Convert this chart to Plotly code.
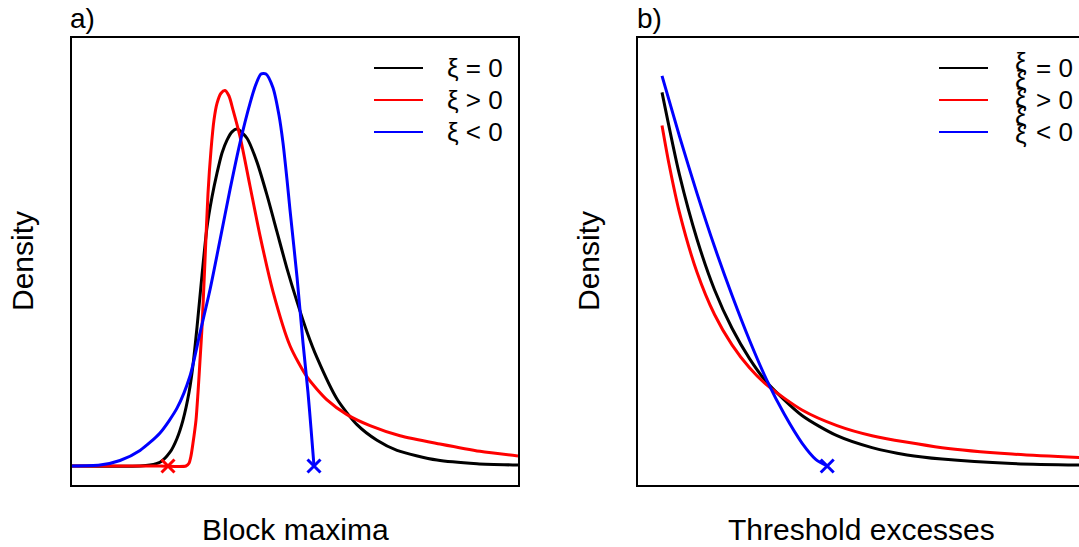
import plotly.graph_objects as go

# ---------------- data ----------------
# Panel a) block maxima (GEV densities)
gev0_x = [-4.125, -2.425, -2.175, -1.925, -1.675, -1.5, -1.35, -1.2, -1.1, -1.0, -0.875, -0.75,
          -0.625, -0.5, -0.375, -0.25, -0.125, 0.0, 0.25, 0.5, 0.75, 1.0, 1.25, 1.5, 1.75, 2.0,
          2.5, 3.0, 3.5, 4.0, 5.0, 6.0, 7.025]
gev0_y = [0.000, 0.000, 0.001, 0.004, 0.015, 0.030, 0.050, 0.080, 0.110, 0.151, 0.208, 0.260,
          0.293, 0.319, 0.341, 0.355, 0.364, 0.367, 0.357, 0.331, 0.295, 0.255, 0.215, 0.179, 0.146, 0.118,
          0.073, 0.045, 0.028, 0.017, 0.0065, 0.0025, 0.001]

gevpos_x = [-4.125, -1.925, -1.275, -1.2, -1.15, -1.1, -1.025, -0.975, -0.925, -0.875, -0.8, -0.725,
            -0.65, -0.575, -0.5, -0.4, -0.3, -0.2, -0.1, 0.075, 0.325, 0.575, 0.9, 1.325, 1.75,
            2.25, 2.75, 3.325, 4.075, 5.075, 6.075, 7.025]
gevpos_y = [0.000, 0.000, 0.000, 0.003, 0.011, 0.025, 0.050, 0.080, 0.115, 0.151, 0.224, 0.297,
            0.344, 0.377, 0.395, 0.406, 0.409, 0.403, 0.388, 0.359, 0.305, 0.251, 0.190, 0.131, 0.097,
            0.072, 0.056, 0.044, 0.033, 0.024, 0.016, 0.011]

gevneg_x = [-4.125, -3.425, -2.925, -2.425, -1.925, -1.5, -1.175, -0.925, -0.675, -0.425, -0.175,
            0.075, 0.325, 0.475, 0.6, 0.725, 0.9, 1.05, 1.15, 1.25, 1.325, 1.5, 1.65, 1.775, 1.85, 1.925]
gevneg_y = [0.000, 0.001, 0.006, 0.017, 0.036, 0.063, 0.098, 0.145, 0.192, 0.246, 0.301,
            0.352, 0.395, 0.416, 0.427, 0.427, 0.412, 0.382, 0.352, 0.312, 0.279, 0.206, 0.134, 0.080, 0.041, 0.000]

gev_endpoints_x = [-1.725, 1.925]   # red (xi>0) lower bound, blue (xi<0) upper bound

# Panel b) threshold excesses (GPD densities)
gpd0_x = [0.00, 0.25, 0.50, 0.75, 1.00, 1.25, 1.50, 2.00, 2.50, 3.00, 3.50, 4.00, 5.00, 6.00]
gpd0_y = [0.407, 0.317, 0.247, 0.192, 0.150, 0.117, 0.091, 0.055, 0.033, 0.020, 0.012, 0.0075, 0.0027, 0.001]

gpdpos_x = [0.00, 0.10, 0.25, 0.50, 0.75, 1.00, 1.25, 1.50, 2.00, 2.50, 3.00, 4.00, 5.00, 6.00]
gpdpos_y = [0.371, 0.329, 0.276, 0.211, 0.165, 0.132, 0.107, 0.088, 0.061, 0.044, 0.033, 0.020, 0.013, 0.009]

gpdneg_x = [0.00, 0.25, 0.50, 0.75, 1.00, 1.25, 1.50, 1.75, 2.00, 2.20, 2.36]
gpdneg_y = [0.425, 0.359, 0.297, 0.239, 0.186, 0.137, 0.093, 0.056, 0.025, 0.007, 0.000]

gpd_endpoint_x = [2.36]

legend_labels = ["\u03be = 0", "\u03be > 0", "\u03be < 0"]
colors = ["#000000", "#FF0000", "#0000FF"]

# ---------------- figure ----------------
W, H = 1079, 547
def px(v): return v / W
def py(v): return 1 - v / H

fig = go.Figure()
LW = 3
SM = 0.7

for xs, ys, c in [(gev0_x, gev0_y, colors[0]), (gevpos_x, gevpos_y, colors[1]), (gevneg_x, gevneg_y, colors[2])]:
    fig.add_trace(go.Scatter(x=xs, y=ys, mode="lines", line=dict(color=c, width=LW, shape="spline", smoothing=SM),
                             showlegend=False, xaxis="x", yaxis="y", hoverinfo="skip"))
fig.add_trace(go.Scatter(x=gev_endpoints_x, y=[0, 0], mode="markers",
                         marker=dict(symbol="x-thin", size=13, line=dict(width=3, color=[colors[1], colors[2]])),
                         showlegend=False, xaxis="x", yaxis="y", hoverinfo="skip"))

for xs, ys, c in [(gpd0_x, gpd0_y, colors[0]), (gpdpos_x, gpdpos_y, colors[1]), (gpdneg_x, gpdneg_y, colors[2])]:
    fig.add_trace(go.Scatter(x=xs, y=ys, mode="lines", line=dict(color=c, width=LW, shape="spline", smoothing=SM),
                             showlegend=False, xaxis="x2", yaxis="y2", hoverinfo="skip"))
fig.add_trace(go.Scatter(x=gpd_endpoint_x, y=[0], mode="markers",
                         marker=dict(symbol="x-thin", size=13, line=dict(width=3, color=colors[2])),
                         showlegend=False, xaxis="x2", yaxis="y2", hoverinfo="skip"))

ydom = [py(485), py(38)]
yr = [-0.0207, 0.4662]
common = dict(showgrid=False, zeroline=False, showticklabels=False, ticks="",
              showline=True, linecolor="black", linewidth=2)

fig.update_layout(
    width=W, height=H,
    margin=dict(l=0, r=0, t=0, b=0),
    paper_bgcolor="white", plot_bgcolor="white",
    font=dict(family="Liberation Sans, Arial, sans-serif", color="black"),
    xaxis=dict(domain=[px(72), px(518)], range=[-4.125, 7.025], mirror=True, anchor="y", **common),
    yaxis=dict(domain=ydom, range=yr, mirror=True, anchor="x", **common),
    xaxis2=dict(domain=[px(638), 1.0], range=[-0.343, 5.957], mirror=True, anchor="y2", **common),
    yaxis2=dict(domain=ydom, range=yr, mirror=False, anchor="x2", **common),
)

ann = []
lab_font = dict(size=30, family="Liberation Sans, Arial, sans-serif")
ann.append(dict(text="Block maxima", x=px(295), y=py(529), xref="paper", yref="paper",
                showarrow=False, font=lab_font, xanchor="center", yanchor="middle"))
ann.append(dict(text="Threshold excesses", x=px(861), y=py(529), xref="paper", yref="paper",
                showarrow=False, font=lab_font, xanchor="center", yanchor="middle"))
for xc in [22, 588]:
    ann.append(dict(text="Density", x=px(xc), y=py(261), xref="paper", yref="paper", textangle=-90,
                    showarrow=False, font=lab_font, xanchor="center", yanchor="middle"))
ann.append(dict(text="a)", x=px(68), y=py(18), xref="paper", yref="paper", showarrow=False,
                font=dict(size=28), xanchor="left", yanchor="middle"))
ann.append(dict(text="b)", x=px(635), y=py(18), xref="paper", yref="paper", showarrow=False,
                font=dict(size=28), xanchor="left", yanchor="middle"))

shapes = []
leg_y = [68, 100, 132]
# left legend
for i, yy in enumerate(leg_y):
    shapes.append(dict(type="line", xref="paper", yref="paper", x0=px(374), x1=px(423), y0=py(yy), y1=py(yy),
                       line=dict(color=colors[i], width=2)))
    ann.append(dict(text=legend_labels[i], x=px(445), y=py(yy), xref="paper", yref="paper", showarrow=False,
                    font=dict(size=26), xanchor="left", yanchor="middle"))
# right legend (xi symbols are garbled / stacked in the original)
for i, yy in enumerate(leg_y):
    shapes.append(dict(type="line", xref="paper", yref="paper", x0=px(939), x1=px(988), y0=py(yy), y1=py(yy),
                       line=dict(color=colors[i], width=2)))
    ann.append(dict(text=legend_labels[i][2:], x=px(1034), y=py(yy), xref="paper", yref="paper", showarrow=False,
                    font=dict(size=26), xanchor="left", yanchor="middle"))
for yy in [62, 80, 98, 116, 134]:
    ann.append(dict(text="\u03be", x=px(1021), y=py(yy), xref="paper", yref="paper", showarrow=False,
                    font=dict(size=26), xanchor="center", yanchor="middle"))

fig.update_layout(annotations=ann, shapes=shapes)
fig.write_html("out.html", config={"displayModeBar": False},
               post_script="document.body.style.margin='0px';document.body.style.overflow='hidden';")
